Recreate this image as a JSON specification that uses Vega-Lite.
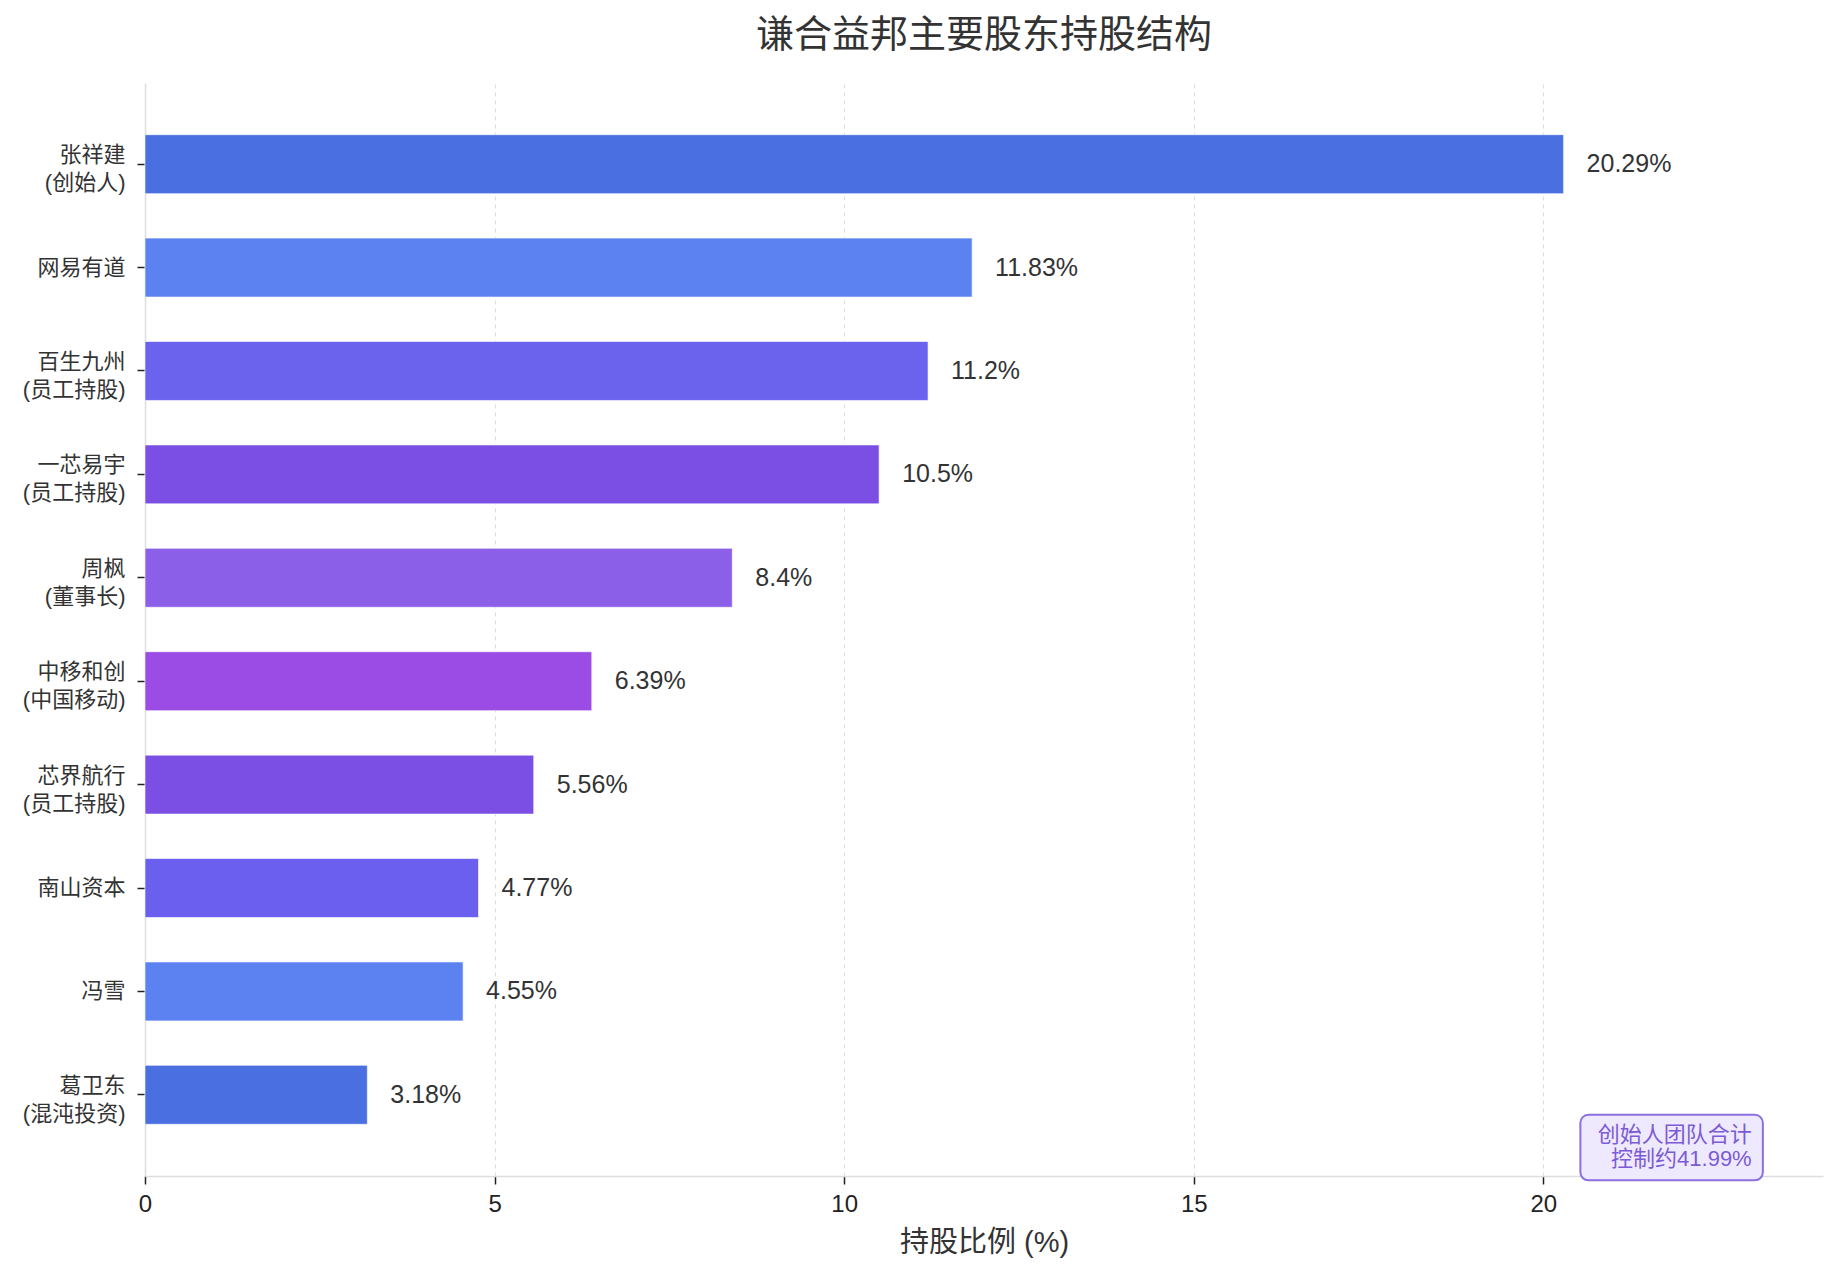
{
  "$schema": "https://vega.github.io/schema/vega-lite/v6.json",
  "width": 1678,
  "height": 1093,
  "autosize": {"type": "none"},
  "padding": {"left": 145, "top": 83, "right": 16, "bottom": 104},
  "background": "white",
  "config": {
    "font": "Liberation Sans, Noto Sans CJK SC",
    "view": {"stroke": null}
  },
  "title": {
    "text": "谦合益邦主要股东持股结构",
    "fontSize": 38,
    "fontWeight": "normal",
    "color": "#333333",
    "anchor": "middle",
    "frame": "group",
    "baseline": "middle",
    "offset": 9,
    "font": "Liberation Sans, Noto Sans CJK SC"
  },
  "datasets": {
    "holders": [
      {"name": "张祥建\n(创始人)", "pct": 20.29, "label": "20.29%"},
      {"name": "网易有道", "pct": 11.83, "label": "11.83%"},
      {"name": "百生九州\n(员工持股)", "pct": 11.2, "label": "11.2%"},
      {"name": "一芯易宇\n(员工持股)", "pct": 10.5, "label": "10.5%"},
      {"name": "周枫\n(董事长)", "pct": 8.4, "label": "8.4%"},
      {"name": "中移和创\n(中国移动)", "pct": 6.39, "label": "6.39%"},
      {"name": "芯界航行\n(员工持股)", "pct": 5.56, "label": "5.56%"},
      {"name": "南山资本", "pct": 4.77, "label": "4.77%"},
      {"name": "冯雪", "pct": 4.55, "label": "4.55%"},
      {"name": "葛卫东\n(混沌投资)", "pct": 3.18, "label": "3.18%"}
    ],
    "note": [
      {"x1": 20.53, "x2": 23.14, "ytop": 0.056, "ybot": -0.004, "tx": 22.98, "ty": 0.0376, "text": "创始人团队合计\n控制约41.99%"}
    ]
  },
  "layer": [
    {
      "data": {"name": "holders"},
      "encoding": {
        "y": {
          "field": "name",
          "type": "nominal",
          "sort": null,
          "scale": {"paddingInner": 0.43, "paddingOuter": 0.5},
          "axis": {
            "title": null,
            "labelExpr": "split(datum.label, '\\n')",
            "labelFontSize": 22,
            "labelLineHeight": 28,
            "labelColor": "#333333",
            "labelPadding": 12,
            "labelBaseline": "middle",
            "labelOffset": {"condition": {"test": "indexof(datum.value, '\\n') >= 0", "value": -9}, "value": 0},
            "tickSize": 8,
            "tickColor": "#222222",
            "tickWidth": 1.5,
            "domainColor": "#dddddd",
            "domainWidth": 1.5,
            "grid": false
          }
        },
        "x": {
          "field": "pct",
          "type": "quantitative",
          "scale": {"domain": [0, 24], "nice": false},
          "axis": {
            "title": "持股比例 (%)",
            "titleFontSize": 29,
            "titleFontWeight": "normal",
            "titleColor": "#333333",
            "titlePadding": 12,
            "values": [0, 5, 10, 15, 20],
            "format": "d",
            "labelFlush": false,
            "labelFontSize": 24,
            "labelColor": "#222222",
            "labelPadding": 8,
            "tickSize": 8,
            "tickColor": "#222222",
            "tickWidth": 1.5,
            "domainColor": "#dddddd",
            "domainWidth": 1.5,
            "grid": true,
            "gridColor": "#dddddd",
            "gridDash": [4, 4],
            "gridWidth": 1
          }
        }
      },
      "layer": [
        {
          "mark": {"type": "bar", "stroke": "white", "strokeWidth": 1, "strokeOpacity": 0.6},
          "encoding": {
            "color": {
              "field": "name",
              "type": "nominal",
              "legend": null,
              "scale": {
                "domain": ["张祥建\n(创始人)", "网易有道", "百生九州\n(员工持股)", "一芯易宇\n(员工持股)", "周枫\n(董事长)", "中移和创\n(中国移动)", "芯界航行\n(员工持股)", "南山资本", "冯雪", "葛卫东\n(混沌投资)"],
                "range": ["#4a6fe0", "#5b82f0", "#6b62ee", "#7b4fe3", "#8c5fe8", "#9a4ce4", "#7b4fe3", "#6a5fee", "#5b82f0", "#4a6fe0"]
              }
            }
          }
        },
        {
          "mark": {"type": "text", "align": "left", "baseline": "middle", "dx": 23, "fontSize": 25, "color": "#333333"},
          "encoding": {"text": {"field": "label", "type": "nominal"}}
        }
      ]
    },
    {
      "data": {"name": "note"},
      "layer": [
        {
          "mark": {"type": "rect", "fill": "#efe9fd", "stroke": "#8c6fe0", "strokeWidth": 2, "cornerRadius": 8},
          "encoding": {
            "x": {"field": "x1", "type": "quantitative"},
            "x2": {"field": "x2"},
            "y": {"field": "ytop", "type": "quantitative", "scale": {"domain": [0, 1], "nice": false, "zero": false}, "axis": null},
            "y2": {"field": "ybot"}
          }
        },
        {
          "mark": {"type": "text", "align": "right", "baseline": "middle", "fontSize": 22, "lineHeight": 24, "lineBreak": "\n", "color": "#7a5cd6"},
          "encoding": {
            "x": {"field": "tx", "type": "quantitative"},
            "y": {"field": "ty", "type": "quantitative", "scale": {"domain": [0, 1], "nice": false, "zero": false}, "axis": null},
            "text": {"field": "text", "type": "nominal"}
          }
        }
      ]
    }
  ],
  "resolve": {"scale": {"y": "independent", "color": "independent"}, "axis": {"y": "independent"}}
}
